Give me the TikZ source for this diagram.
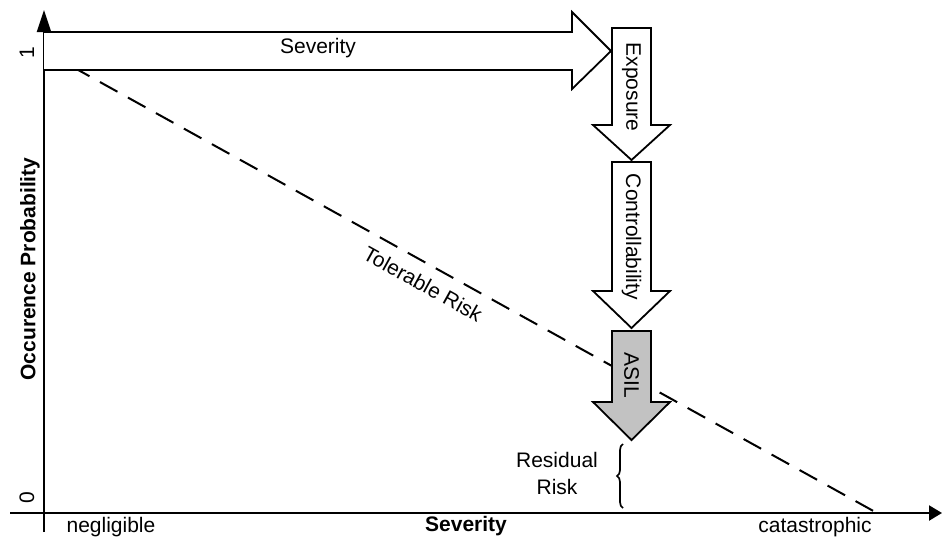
\documentclass[tikz,border=0pt]{standalone}
\usepackage{fontspec}
\setmainfont{Liberation Sans}
\usetikzlibrary{arrows.meta,decorations.pathreplacing}
\begin{document}
\begin{tikzpicture}[x=1pt,y=-1pt,
  lbl/.style={inner sep=0pt,font=\fontsize{21}{24}\selectfont},
  blbl/.style={lbl,font=\fontsize{21}{24}\selectfont\bfseries},
  bigarrow/.style={draw=black,line width=1.8pt,line join=miter,fill=white},
  axis/.style={line width=2.2pt},
  tolerable/.style={line width=2pt,dash pattern=on 20pt off 12pt}]
\useasboundingbox (0,0) rectangle (944,541);

% axes
\coordinate (o) at (44,513);
\coordinate (ybot) at (44,532);
\coordinate (ytop) at (44,10);
\coordinate (xleft) at (10,513);
\coordinate (xright) at (942,513);
\draw[axis,-{Triangle[length=22pt,width=14pt]}] (ybot) -- (ytop);
\draw[axis,-{Triangle[length=13pt,width=15pt]}] (xleft) -- (xright);

% tolerable risk line
\coordinate (t0) at (44,51);
\coordinate (t1) at (877,513);
\draw[tolerable] (t0) -- (t1);
\node[lbl,rotate=-29] (tol) at (423,284) {Tolerable Risk};

% severity arrow
\draw[bigarrow] (44,32) -- (572,32) -- (572,12) -- (611,51) -- (572,89)
  -- (572,70) -- (44,70);
\node[lbl] (sev) at (318,48) {Severity};

% exposure arrow
\draw[bigarrow] (612,28) -- (651,28) -- (651,125) -- (670,125) -- (631.5,160)
  -- (593,125) -- (612,125) -- cycle;
\node[lbl,rotate=-90] (exp) at (631.5,87) {Exposure};

% controllability arrow
\draw[bigarrow] (612,162) -- (651,162) -- (651,291) -- (670,291) -- (631.5,328)
  -- (593,291) -- (612,291) -- cycle;
\node[lbl,rotate=-90] (ctl) at (631.5,237) {Controllability};

% ASIL arrow
\draw[bigarrow,fill=gray!48] (612,331) -- (651,331) -- (651,402) -- (670,402)
  -- (631.5,440) -- (593,402) -- (612,402) -- cycle;
\node[lbl,rotate=-90] (asil) at (631.5,375) {ASIL};

% residual risk brace
\coordinate (rb0) at (623,508);
\coordinate (rb1) at (623,444);
\draw[line width=1.7pt,decorate,decoration={brace,amplitude=6pt}] (rb0) -- (rb1);
\node[lbl,align=center] (res) at (557,473) {Residual\\[3pt]Risk};

% axis labels
\node[blbl,rotate=90] (occ) at (30,269) {Occurence Probability};
\node[lbl,rotate=90] (one) at (27,53) {1};
\node[lbl,rotate=90] (zero) at (27,498) {0};
\node[blbl] (sevx) at (466,526) {Severity};
\node[lbl] (neg) at (111,527) {negligible};
\node[lbl] (cat) at (815,527) {catastrophic};
\end{tikzpicture}
\end{document}
